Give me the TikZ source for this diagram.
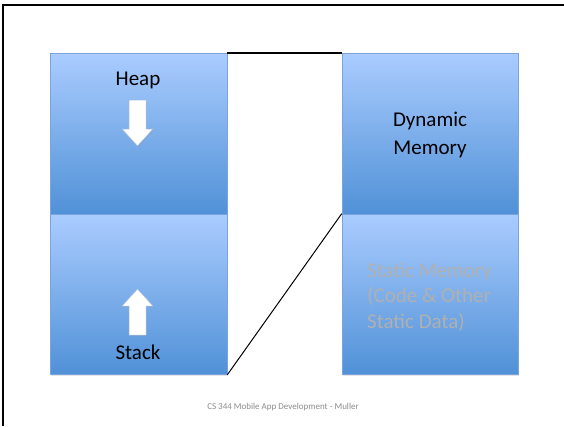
\documentclass[tikz,border=0pt]{standalone}
\usepackage{fontspec}
\setmainfont{Carlito}
\usetikzlibrary{shadows}
\definecolor{boxtop}{RGB}{170,204,255}
\definecolor{boxbot}{RGB}{80,145,215}
\definecolor{boxedge}{RGB}{122,164,222}
\definecolor{statictext}{RGB}{176,176,176}
\definecolor{foottext}{RGB}{140,140,140}
\definecolor{arrowedge}{RGB}{165,188,218}
\begin{document}
\begin{tikzpicture}[x=1pt,y=-1pt,
  memblock/.style={rectangle, draw=boxedge, line width=0.6pt,
    top color=boxtop, bottom color=boxbot,
    minimum width=177pt, minimum height=160.5pt, inner sep=0pt,
    drop shadow={shadow xshift=1pt, shadow yshift=-1.5pt, opacity=0.22}},
  bigtext/.style={font=\fontsize{21}{28}\selectfont, inner sep=0pt, text=black},
  growarrow/.style={fill=white, draw=arrowedge, line width=0.5pt,
    drop shadow={shadow xshift=0.8pt, shadow yshift=-1pt, opacity=0.2}},
  link/.style={draw=black}
]
\useasboundingbox (0,0) rectangle (564,426);
\fill[white] (0,0) rectangle (564,426);

% slide frame (left and top edges)
\draw[line width=2.5pt] (3,426) -- (3,5) -- (564,5);

% memory blocks
\node[memblock] (heap)   at (138.5,133.75) {};
\node[memblock] (stack)  at (138.5,294.25) {};
\node[memblock, minimum width=176pt] (dyn)    at (430,133.75) {};
\node[memblock, minimum width=176pt] (static) at (430,294.25) {};

% growth arrows
\path[growarrow] (129,100) -- (146,100) -- (146,129) -- (153,129)
  -- (137.5,146) -- (122,129) -- (129,129) -- cycle;
\path[growarrow] (129,335) -- (146,335) -- (146,306) -- (153,306)
  -- (137.5,289) -- (122,306) -- (129,306) -- cycle;

% labels
\node[bigtext, anchor=base] (heaplbl)  at (138,85)  {Heap};
\node[bigtext, anchor=base] (stacklbl) at (138,359) {Stack};
\node[bigtext, align=center, anchor=north] (dynlbl) at (430,111.5)
  {Dynamic\\Memory};
\node[bigtext, font=\fontsize{21}{25.5}\selectfont, text=statictext,
  align=left, anchor=north west] (staticlbl) at (367,262.5)
  {Static Memory\\(Code \& Other\\Static Data)};

% mapping lines
\draw[link, line width=1.8pt] (heap.north east) -- (dyn.north west);
\draw[link, line width=1pt] (stack.south east) -- (static.north west);

% footer
\node[font=\fontsize{9}{11}\selectfont, text=foottext] (footer) at (283,407)
  {CS 344 Mobile App Development - Muller};
\end{tikzpicture}
\end{document}
